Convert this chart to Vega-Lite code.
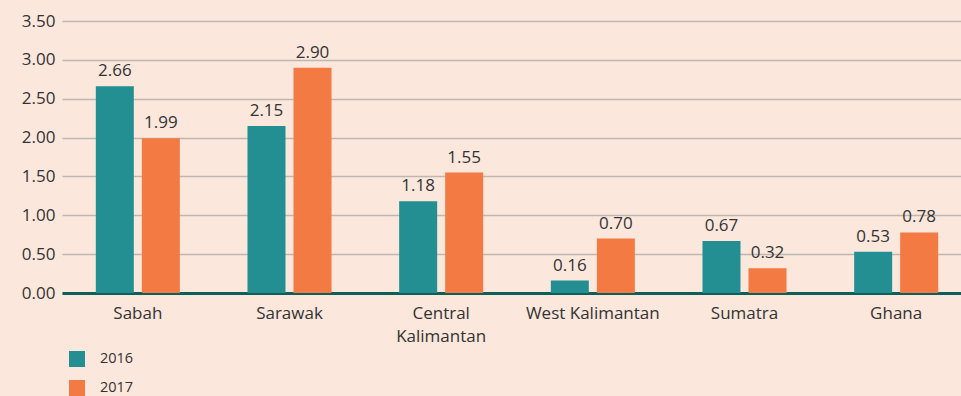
{
  "$schema": "https://vega.github.io/schema/vega-lite/v6.json",
  "autosize": {"type": "none"},
  "width": 910,
  "height": 272,
  "padding": {"left": 62, "top": 21, "right": 0, "bottom": 103},
  "background": "#fbe7dc",
  "config": {
    "view": {"stroke": null},
    "font": "Open Sans",
    "axis": {"labelFont": "Open Sans", "labelColor": "#333333"},
    "legend": {"labelFont": "Open Sans"}
  },
  "data": {
    "values": [
      {"region": "Sabah", "year": "2016", "value": 2.66},
      {"region": "Sabah", "year": "2017", "value": 1.99},
      {"region": "Sarawak", "year": "2016", "value": 2.15},
      {"region": "Sarawak", "year": "2017", "value": 2.90},
      {"region": "Central Kalimantan", "year": "2016", "value": 1.18},
      {"region": "Central Kalimantan", "year": "2017", "value": 1.55},
      {"region": "West Kalimantan", "year": "2016", "value": 0.16},
      {"region": "West Kalimantan", "year": "2017", "value": 0.70},
      {"region": "Sumatra", "year": "2016", "value": 0.67},
      {"region": "Sumatra", "year": "2017", "value": 0.32},
      {"region": "Ghana", "year": "2016", "value": 0.53},
      {"region": "Ghana", "year": "2017", "value": 0.78}
    ]
  },
  "encoding": {
    "x": {
      "field": "region",
      "type": "nominal",
      "sort": null,
      "scale": {"paddingInner": 0.446, "paddingOuter": 0.223},
      "axis": {
        "title": null,
        "labelAngle": 0,
        "labelFontSize": 17,
        "labelPadding": 12,
        "ticks": false,
        "domain": true,
        "domainColor": "#0e5f57",
        "domainWidth": 3,
        "labelLineHeight": 23,
        "labelExpr": "datum.label == 'Central Kalimantan' ? ['Central', 'Kalimantan'] : datum.label"
      }
    },
    "xOffset": {
      "field": "year",
      "type": "nominal",
      "scale": {"paddingInner": 0.174, "paddingOuter": 0}
    },
    "y": {
      "field": "value",
      "type": "quantitative",
      "scale": {"domain": [0, 3.5], "nice": false},
      "axis": {
        "title": null,
        "values": [0, 0.5, 1, 1.5, 2, 2.5, 3, 3.5],
        "format": ".2f",
        "labelFontSize": 17,
        "labelPadding": 7,
        "ticks": false,
        "domain": false,
        "grid": true,
        "gridColor": "#bdb6b1",
        "gridWidth": 1.5
      }
    }
  },
  "layer": [
    {
      "mark": {"type": "bar"},
      "encoding": {
        "color": {
          "field": "year",
          "type": "nominal",
          "scale": {"domain": ["2016", "2017"], "range": ["#248f92", "#f47a43"]},
          "legend": {
            "title": null,
            "orient": "none",
            "legendX": 7,
            "legendY": 330,
            "symbolType": "square",
            "symbolSize": 256,
            "symbolStrokeWidth": 0,
            "labelFontSize": 14.5,
            "labelColor": "#333333",
            "labelOffset": 15,
            "rowPadding": 13
          }
        }
      }
    },
    {
      "mark": {"type": "text", "baseline": "bottom", "dy": -6, "fontSize": 17, "color": "#333333"},
      "encoding": {
        "text": {"field": "value", "type": "quantitative", "format": ".2f"}
      }
    }
  ]
}
